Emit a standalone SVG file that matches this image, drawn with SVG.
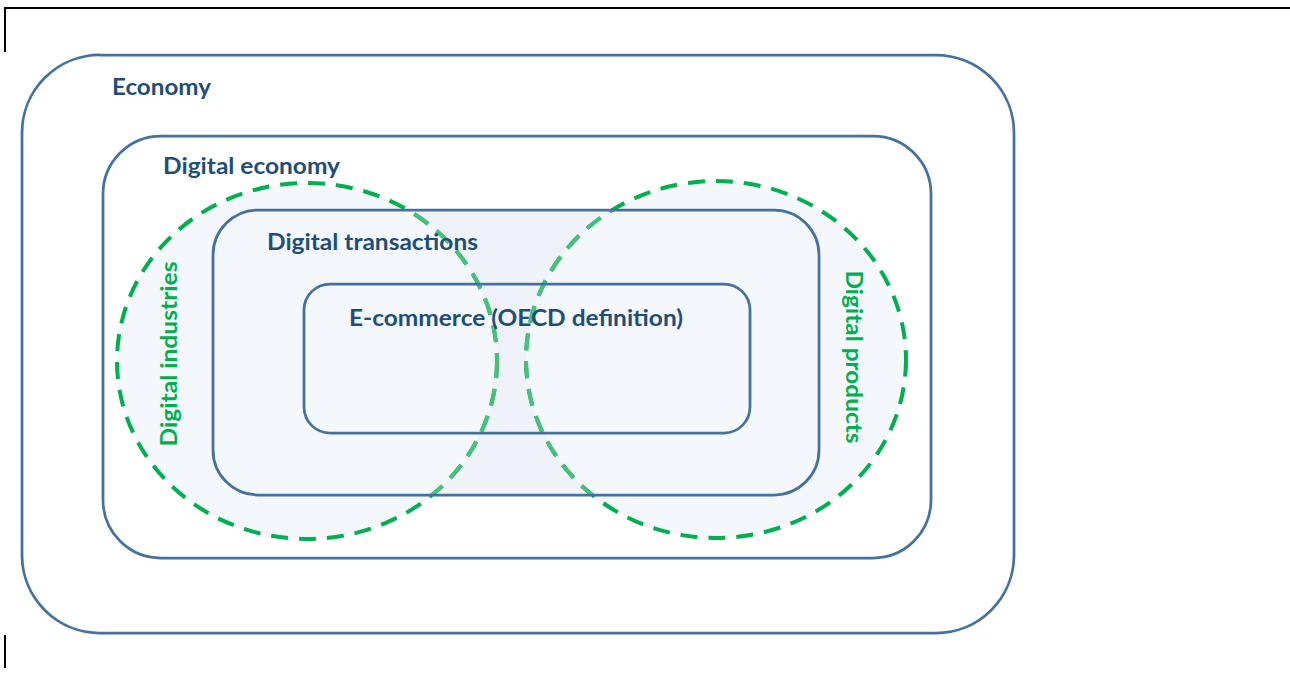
<svg xmlns="http://www.w3.org/2000/svg" width="1290" height="675" viewBox="0 0 1290 675">
<style>
.box{stroke:#44719e;stroke-width:2.75}
.lbl{font-family:Lato,"Open Sans","Liberation Sans",sans-serif;font-weight:bold;font-size:22px;fill:#1f4e79}
.glbl{font-family:Lato,"Open Sans","Liberation Sans",sans-serif;font-weight:bold;font-size:22px;fill:#00b050}
.cfill{fill:#f4f7fb;stroke:none}
.dash{fill:none;stroke:#00b050;stroke-width:4;stroke-dasharray:17 11}
.dash-in{stroke:#48c07c}
.frame{stroke:#000;stroke-width:2;fill:none}
</style>
<defs>
<clipPath id="txclip"><rect x="213" y="210" width="606" height="285" rx="45"/></clipPath>
</defs>
<rect width="1290" height="675" fill="#fff"/>
<g id="frame">
<path class="frame" d="M4 8 H1290 M5 8 V52 M5 635 V668"/>
</g>
<g id="economy">
<rect class="box" x="22" y="55" width="992" height="578" rx="78" fill="#fff"/>
<text class="lbl" x="112" y="95" textLength="99" lengthAdjust="spacingAndGlyphs">Economy</text>
</g>
<g id="digital-economy">
<rect class="box" x="103" y="136" width="828" height="422" rx="58" fill="#fff"/>
<text class="lbl" x="163" y="174" textLength="177" lengthAdjust="spacingAndGlyphs">Digital economy</text>
</g>
<rect x="213" y="210" width="606" height="285" rx="45" fill="#eff3f9"/>
<g id="digital-industries">
<ellipse class="cfill" cx="307" cy="361" rx="190" ry="178"/>
<ellipse class="dash" cx="307" cy="361" rx="190" ry="178"/>
<ellipse class="dash dash-in" cx="307" cy="361" rx="190" ry="178" clip-path="url(#txclip)"/>
<text class="glbl" transform="translate(177 354) rotate(-90)" text-anchor="middle" textLength="185" lengthAdjust="spacingAndGlyphs">Digital industries</text>
</g>
<g id="digital-products">
<ellipse class="cfill" cx="716" cy="359.5" rx="190" ry="178.5"/>
<ellipse class="dash" cx="716" cy="359.5" rx="190" ry="178.5"/>
<ellipse class="dash dash-in" cx="716" cy="359.5" rx="190" ry="178.5" clip-path="url(#txclip)"/>
<text class="glbl" transform="translate(846 357) rotate(90)" text-anchor="middle" textLength="173" lengthAdjust="spacingAndGlyphs">Digital products</text>
</g>
<g id="digital-transactions">
<rect class="box" x="213" y="210" width="606" height="285" rx="45" fill="none"/>
<text class="lbl" x="267" y="250" textLength="211" lengthAdjust="spacingAndGlyphs">Digital transactions</text>
</g>
<g id="e-commerce">
<rect class="box" x="304" y="284" width="446" height="149" rx="26" fill="none"/>
<text class="lbl" x="349" y="326" textLength="334" lengthAdjust="spacingAndGlyphs">E-commerce (OECD definition)</text>
</g>
<g id="connectors"></g>
</svg>
